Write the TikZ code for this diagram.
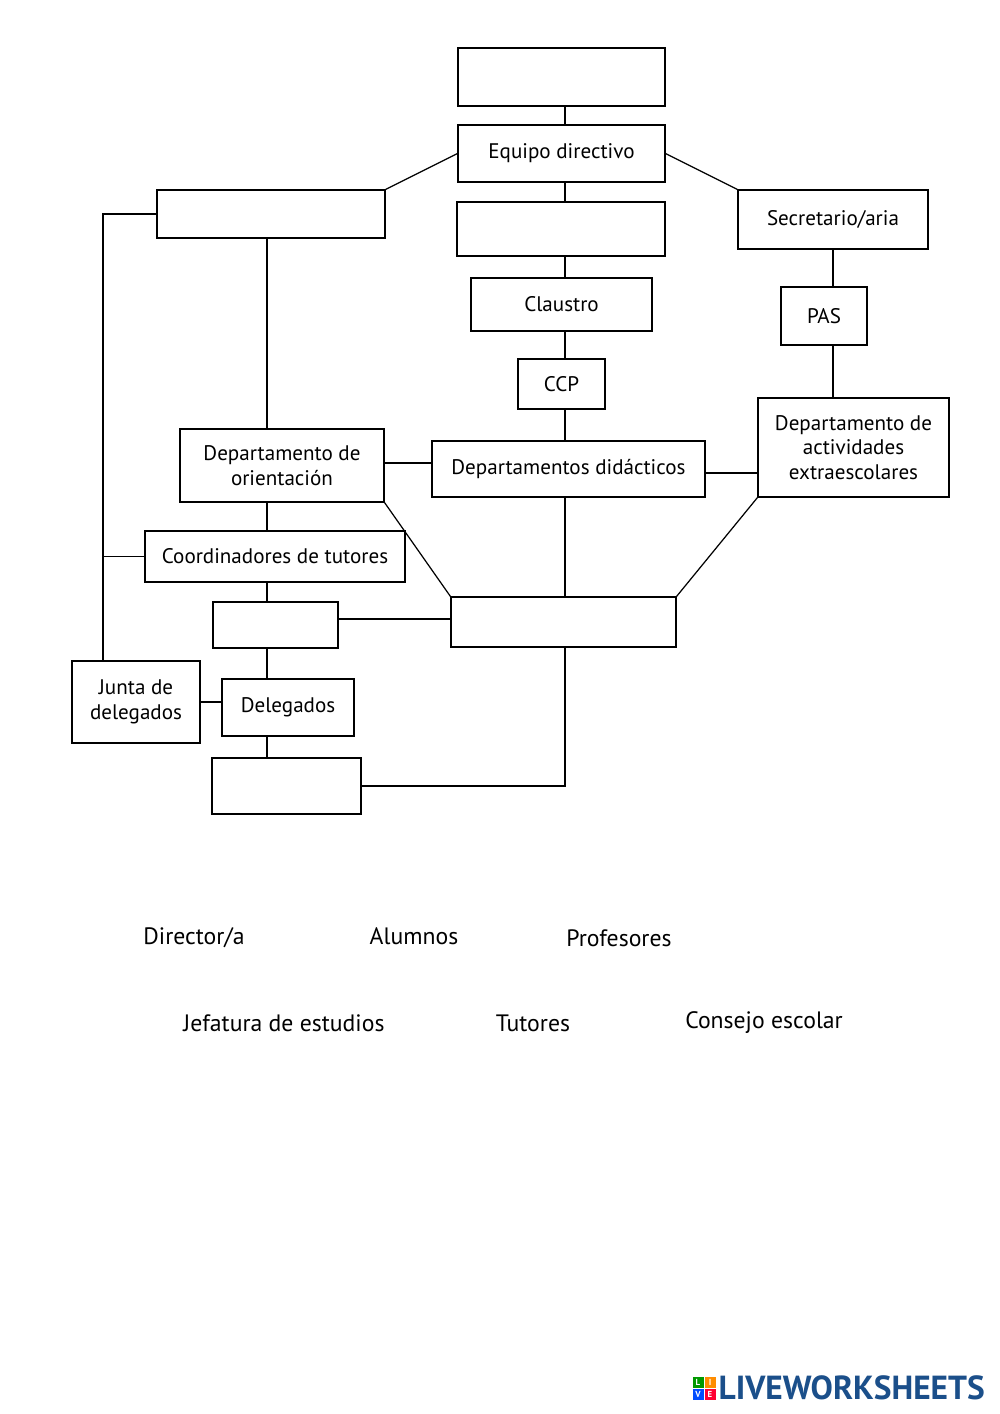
\documentclass[tikz,border=0pt]{standalone}
\usepackage{fontspec}
\setmainfont{PT Sans}
\definecolor{lwblue}{HTML}{1B4F8A}
\begin{document}
\begin{tikzpicture}[x=0.02cm,y=-0.02cm,line width=0.7pt,
  org/.style={draw,align=center,inner sep=2pt,font=\fontsize{12}{14}\selectfont},
  word/.style={font=\fontsize{13.5}{15}\selectfont},
  tile/.style={minimum size=0.22cm,inner sep=0pt,text=white,font=\bfseries\fontsize{5}{5}\selectfont}]
\useasboundingbox[fill=white] (0,0) rectangle (1000,1414);
\coordinate (mid) at (565,0);
\coordinate (spine) at (267,0);
\coordinate (outer) at (103,0);
% centre column
\node[org,minimum width=4.14cm,minimum height=1.16cm] (dir) at (561.5,77) {};
\node[org,minimum width=4.14cm,minimum height=1.14cm] (equipo) at (561.5,153.5) {Equipo directivo};
\node[org,minimum width=4.16cm,minimum height=1.08cm] (consejo) at (561,229) {};
\node[org,minimum width=3.62cm,minimum height=1.06cm] (claustro) at (561.5,304.5) {Claustro};
\node[org,minimum width=1.74cm,minimum height=1cm] (ccp) at (561.5,384) {CCP};
\node[org,minimum width=5.46cm,minimum height=1.12cm] (didact) at (568.5,469) {Departamentos didácticos};
\node[org,minimum width=4.5cm,minimum height=1cm] (profes) at (563.5,622) {};
% right column
\node[org,minimum width=3.8cm,minimum height=1.18cm] (secret) at (833,219.5) {Secretario/aria};
\node[org,minimum width=1.72cm,minimum height=1.16cm] (pas) at (824,316) {PAS};
\node[org,minimum width=3.82cm,minimum height=1.98cm] (activ) at (853.5,447.5) {Departamento de\\actividades\\extraescolares};
% left column
\node[org,minimum width=4.56cm,minimum height=0.96cm] (jefatura) at (271,214) {};
\node[org,minimum width=4.08cm,minimum height=1.46cm] (orient) at (282,465.5) {Departamento de\\orientación};
\node[org,minimum width=5.2cm,minimum height=1.02cm] (coord) at (275,556.5) {Coordinadores de tutores};
\node[org,minimum width=2.5cm,minimum height=0.92cm] (tutores) at (275.5,625) {};
\node[org,minimum width=2.56cm,minimum height=1.64cm] (junta) at (136,702) {Junta de\\delegados};
\node[org,minimum width=2.64cm,minimum height=1.14cm] (deleg) at (288,707.5) {Delegados};
\node[org,minimum width=2.98cm,minimum height=1.12cm] (alumnos) at (286.5,786) {};
% connectors
\draw (dir.south -| mid) -- (equipo.north -| mid);
\draw (equipo.south -| mid) -- (consejo.north -| mid);
\draw (consejo.south -| mid) -- (claustro.north -| mid);
\draw (claustro.south -| mid) -- (ccp.north -| mid);
\draw (ccp.south -| mid) -- (didact.north -| mid);
\draw (didact.south -| mid) -- (profes.north -| mid);
\draw (alumnos.east) -| (profes.south -| mid);
\draw (equipo.west) -- (jefatura.north east);
\draw (equipo.east) -- (secret.north west);
\draw (secret.south) -- (secret.south |- pas.north);
\draw (pas.south -| secret) -- (secret |- activ.north);
\draw (orient.east |- 0,463) -- (didact.west |- 0,463);
\draw (didact.east |- 0,473) -- (activ.west |- 0,473);
\draw (orient.south east) -- (profes.north west);
\draw (activ.south west) -- (profes.north east);
\draw (tutores.east |- 0,619) -- (profes.west |- 0,619);
\draw (jefatura.south -| spine) -- (orient.north -| spine);
\draw (orient.south -| spine) -- (coord.north -| spine);
\draw (coord.south -| spine) -- (tutores.north -| spine);
\draw (tutores.south -| spine) -- (deleg.north -| spine);
\draw (deleg.south -| spine) -- (alumnos.north -| spine);
\draw (jefatura.west) -| (junta.north -| outer);
\draw (coord.west) -- (coord.west -| outer);
\draw (junta.east) -- (deleg.west |- junta.east);
% words to place
\node[word] (w1) at (194,938) {Director/a};
\node[word] (w2) at (414,936) {Alumnos};
\node[word] (w3) at (619,938) {Profesores};
\node[word] (w4) at (284,1023) {Jefatura de estudios};
\node[word] (w5) at (533,1023) {Tutores};
\node[word] (w6) at (764,1023) {Consejo escolar};
% logo
\node[tile,fill=green!60!black] (tl) at (698,1382) {L};
\node[tile,fill=orange!90!yellow] (ti) at (710,1382) {I};
\node[tile,fill=blue!70!cyan] (tv) at (698,1394) {V};
\node[tile,fill=red!80!magenta] (te) at (710,1394) {E};
\node[anchor=west,inner sep=0pt,text=lwblue,font=\bfseries\fontsize{19}{19}\selectfont] (logo) at (718,1388) {LIVEWORKSHEETS};
\end{tikzpicture}
\end{document}
